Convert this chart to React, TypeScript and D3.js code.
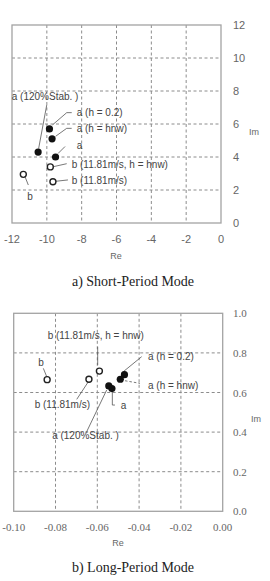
import React from 'react';
import * as d3 from 'd3';

// short-period mode: eigenvalues (Re, Im)
const shortLabels = [
  'a (h = 0.2)',
  'a (h = hnw)',
  'a',
  'a (120%Stab. )',
  'b (11.81m/s, h = hnw)',
  'b (11.81m/s)',
  'b',
];
const shortRe = [-9.85, -9.7, -9.5, -10.5, -9.8, -9.65, -11.35];
const shortIm = [5.7, 5.1, 4.0, 4.3, 3.4, 2.5, 2.95];
const shortFilled = [true, true, true, true, false, false, false];

// long-period mode
const longLabels = [
  'a (h = 0.2)',
  'a (h = hnw)',
  'a',
  'a (120%Stab. )',
  'b (11.81m/s, h = hnw)',
  'b (11.81m/s)',
  'b',
];
const longRe = [-0.047, -0.049, -0.053, -0.0545, -0.059, -0.064, -0.084];
const longIm = [0.69, 0.667, 0.62, 0.633, 0.708, 0.667, 0.665];
const longFilled = [true, true, true, true, false, false, false];

const shortXTicks = [-12, -10, -8, -6, -4, -2, 0];
const shortYTicks = [0, 2, 4, 6, 8, 10, 12];
const longXTicks = [-0.1, -0.08, -0.06, -0.04, -0.02, 0];
const longYTicks = [0, 0.2, 0.4, 0.6, 0.8, 1.0];

// label placement, pixels relative to each point
type Note = { dx: number; dy: number; anchor: string; leader: number[][]; dashed?: boolean };

const shortNotes: Note[] = [
  { dx: 27.3, dy: -16.3, anchor: 'start', leader: [[3, -4], [17.3, -16.3], [22.3, -16.3]] },
  { dx: 24.6, dy: -10.5, anchor: 'start', leader: [[3.5, -2.5], [14.6, -10.5], [19.6, -10.5]] },
  { dx: 21.2, dy: -12, anchor: 'start', leader: [[2.5, -3.5], [9.5, -10.5]] },
  { dx: -26.4, dy: -55.3, anchor: 'start', leader: [[0.5, -3.5], [8.6, -47]] },
  { dx: 21.4, dy: -2.9, anchor: 'start', leader: [[3, -0.2], [16.4, -3.2]] },
  { dx: 18.8, dy: -1.75, anchor: 'start', leader: [[3, -0.5], [15, -1.8]] },
  { dx: 6.7, dy: 22.4, anchor: 'middle', leader: [[1.7, 2.4], [5, 10.7]] },
];

const longNotes: Note[] = [
  { dx: 23.5, dy: -18, anchor: 'start', leader: [[-3, -1.5], [17.2, -18]] },
  { dx: 27.7, dy: 5.8, anchor: 'start', leader: [[4.7, 1.5], [19.7, 4.1]], dashed: true },
  { dx: 8.8, dy: 16.5, anchor: 'start', leader: [[0.4, 3.2], [0.4, 16.5], [3, 16.5]] },
  { dx: -23.3, dy: 49.7, anchor: 'middle', leader: [[-2.1, 4], [-22.1, 45.7]] },
  { dx: -3.6, dy: -36, anchor: 'middle', leader: [[-1.7, -6], [-1.7, -24.4]] },
  { dx: 1.1, dy: 24.8, anchor: 'end', leader: [[-0.6, 2.5], [-12.2, 20.1]] },
  { dx: -6, dy: -17, anchor: 'middle', leader: [[-0.4, -2.9], [-3.8, -11.3]] },
];

const sans = '"Liberation Sans", Arial, sans-serif';
const serif = '"Liberation Serif", "Times New Roman", serif';

const fmt = (spec: string) => (v: number) => d3.format(spec)(v).replace('−', '-');

interface PanelProps {
  box: { left: number; right: number; top: number; bottom: number };
  xDomain: [number, number];
  yDomain: [number, number];
  xTicks: number[];
  yTicks: number[];
  xFormat: (v: number) => string;
  yFormat: (v: number) => string;
  tickFont: string;
  labels: string[];
  re: number[];
  im: number[];
  filled: boolean[];
  notes: Note[];
  xLabelY: number;
  reLabel: { x: number; y: number };
  imLabel: { x: number; y: number };
  caption: string;
  captionY: number;
}

const Panel: React.FC<PanelProps> = (p) => {
  const x = d3.scaleLinear().domain(p.xDomain).range([p.box.left, p.box.right]);
  const y = d3.scaleLinear().domain(p.yDomain).range([p.box.bottom, p.box.top]);
  const line = d3.line();
  const grid = '#8c8c8c';

  return (
    <g>
      {p.xTicks.slice(1, -1).map((t) => (
        <line key={'gx' + t} x1={x(t)} x2={x(t)} y1={p.box.top} y2={p.box.bottom}
          stroke={grid} strokeWidth={1} strokeDasharray="3,2.5" />
      ))}
      {p.yTicks.slice(1, -1).map((t) => (
        <line key={'gy' + t} x1={p.box.left} x2={p.box.right} y1={y(t)} y2={y(t)}
          stroke={grid} strokeWidth={1} strokeDasharray="3,2.5" />
      ))}
      <rect x={p.box.left} y={p.box.top} width={p.box.right - p.box.left}
        height={p.box.bottom - p.box.top} fill="none" stroke="#a3a3a3" strokeWidth={1.3} />

      {p.xTicks.map((t) => (
        <text key={'tx' + t} x={x(t)} y={p.xLabelY} textAnchor="middle"
          fontFamily={p.tickFont} fontSize={11} fill="#666">{p.xFormat(t)}</text>
      ))}
      {p.yTicks.map((t) => (
        <text key={'ty' + t} x={233} y={y(t)} dominantBaseline="central"
          fontFamily={p.tickFont} fontSize={11} fill="#666">{p.yFormat(t)}</text>
      ))}
      <text x={p.reLabel.x} y={p.reLabel.y} textAnchor="middle" dominantBaseline="central"
        fontFamily={sans} fontSize={9} fill="#666">Re</text>
      <text x={p.imLabel.x} y={p.imLabel.y} textAnchor="middle" dominantBaseline="central"
        fontFamily={sans} fontSize={9} fill="#666">Im</text>

      {p.labels.map((lab, i) => {
        const px = x(p.re[i]);
        const py = y(p.im[i]);
        const n = p.notes[i];
        const pts = n.leader.map(([a, b]) => [px + a, py + b] as [number, number]);
        return (
          <g key={'n' + i}>
            <path d={line(pts) || ''} fill="none" stroke="#555" strokeWidth={0.8}
              strokeDasharray={n.dashed ? '2.5,2' : undefined} />
            <text x={px + n.dx} y={py + n.dy} textAnchor={n.anchor} dominantBaseline="central"
              fontFamily={sans} fontSize={10} fill="#444">{lab}</text>
          </g>
        );
      })}

      {p.labels.map((_, i) => (
        p.filled[i] ? (
          <circle key={'p' + i} cx={x(p.re[i])} cy={y(p.im[i])} r={3.6} fill="#111" />
        ) : (
          <circle key={'p' + i} cx={x(p.re[i])} cy={y(p.im[i])} r={3} fill="#fff"
            stroke="#222" strokeWidth={1.4} />
        )
      ))}

      <text x={133} y={p.captionY} textAnchor="middle" fontFamily={serif} fontSize={14}
        fill="#222">{p.caption}</text>
    </g>
  );
};

export default function App() {
  return (
    <svg width={270} height={581} style={{ position: 'absolute', left: 0, top: 0, background: '#fff' }}>
      <Panel
        box={{ left: 12, right: 221, top: 25, bottom: 223 }}
        xDomain={[-12, 0]}
        yDomain={[0, 12]}
        xTicks={shortXTicks}
        yTicks={shortYTicks}
        xFormat={fmt('d')}
        yFormat={fmt('d')}
        tickFont={sans}
        labels={shortLabels}
        re={shortRe}
        im={shortIm}
        filled={shortFilled}
        notes={shortNotes}
        xLabelY={243}
        reLabel={{ x: 116, y: 256 }}
        imLabel={{ x: 254, y: 132 }}
        caption="a) Short-Period Mode"
        captionY={286}
      />
      <Panel
        box={{ left: 13.7, right: 222.7, top: 313.3, bottom: 511.3 }}
        xDomain={[-0.1, 0]}
        yDomain={[0, 1]}
        xTicks={longXTicks}
        yTicks={longYTicks}
        xFormat={fmt('.2f')}
        yFormat={fmt('.1f')}
        tickFont={serif}
        labels={longLabels}
        re={longRe}
        im={longIm}
        filled={longFilled}
        notes={longNotes}
        xLabelY={531}
        reLabel={{ x: 118, y: 543 }}
        imLabel={{ x: 256, y: 419 }}
        caption="b) Long-Period Mode"
        captionY={572}
      />
    </svg>
  );
}
